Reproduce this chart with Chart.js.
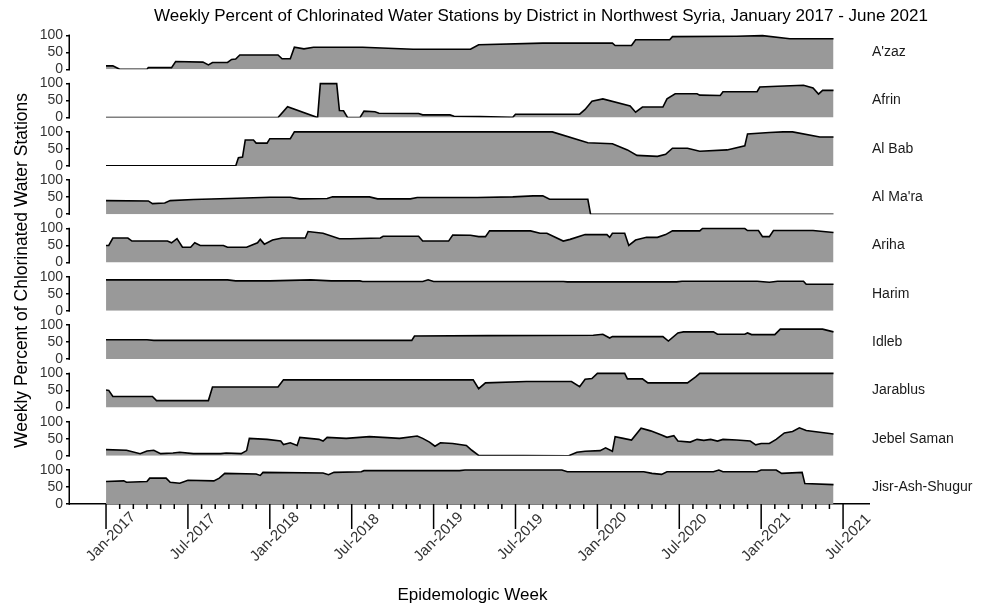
<!DOCTYPE html>
<html>
<head>
<meta charset="utf-8">
<title>Chlorinated Water Stations</title>
<style>
  body { margin: 0; background: #fff; }
  canvas { display: block; }
</style>
</head>
<body>
<canvas id="chart" width="988" height="609"></canvas>
<script src="https://cdn.jsdelivr.net/npm/chart.js@4.4.1/dist/chart.umd.min.js"></script>
<script>
// x = months since Jan-2017, y = weekly percent of chlorinated stations
const districts = ["A'zaz", "Afrin", "Al Bab", "Al Ma'ra", "Ariha", "Harim", "Idleb", "Jarablus", "Jebel Saman", "Jisr-Ash-Shugur"];

const azaz = [[0,10],[0.5,10],[1.0,0],[3.0,0],[3.1,5],[4.8,5],[5.1,23],[7.1,21],[7.5,13],[7.8,20],[8.9,20],[9.2,29],[9.5,30],[9.8,42],[12.6,42],[12.9,31],[13.5,31],[13.8,65],[14.5,60],[15.2,65],[18.8,65],[22.5,59],[26.7,59],[27.3,72],[32.0,77],[37.1,77],[37.3,70],[38.5,70],[38.8,87],[41.3,87],[41.5,96],[46.2,97],[48.1,99],[50.1,90],[53.3,90]];
const afrin = [[0,0],[12.6,0],[13.3,32],[15.5,0],[15.7,100],[16.9,100],[17.1,21],[17.4,20],[17.7,0],[18.6,0],[18.9,19],[19.7,17],[20.0,13],[22.9,12],[23.2,8],[25.2,8],[25.5,4],[27.4,3],[29.8,1],[30.0,10],[34.7,10],[35.1,24],[35.6,48],[36.4,55],[38.4,34],[38.8,16],[39.3,31],[40.8,31],[41.1,55],[41.7,70],[43.3,70],[43.5,66],[45.0,65],[45.2,76],[47.7,76],[47.9,90],[49.2,92],[51.1,95],[51.8,87],[52.2,69],[52.5,80],[53.3,80]];
const alBab = [[0,0],[9.5,0],[9.7,24],[10.0,26],[10.2,76],[10.8,76],[11.0,67],[11.8,67],[12.0,80],[13.5,80],[13.8,100],[32.7,100],[35.3,68],[37.1,65],[38.2,47],[38.9,31],[40.4,28],[41.0,34],[41.5,52],[42.6,52],[43.5,43],[45.5,47],[46.8,59],[47.0,94],[48.6,98],[49.6,100],[50.3,100],[52.3,85],[53.3,85]];
const alMara = [[0,40],[3.1,39],[3.4,31],[4.3,33],[4.7,40],[6.4,43],[9.0,46],[12.0,50],[13.5,50],[14.2,45],[16.2,46],[16.6,51],[19.3,51],[19.9,45],[22.3,45],[22.8,49],[27.2,49],[29.8,51],[31.3,54],[32.0,54],[32.5,44],[35.3,44],[35.5,0],[53.3,0]];
const ariha = [[0,50],[0.2,50],[0.5,72],[1.6,72],[1.9,63],[4.5,63],[4.8,58],[5.2,70],[5.6,45],[6.2,45],[6.5,58],[6.9,50],[8.6,50],[8.9,45],[10.3,45],[11.1,58],[11.3,68],[11.6,54],[12.2,66],[12.9,72],[14.6,72],[14.8,91],[15.9,86],[17.1,70],[17.9,70],[20.1,72],[20.3,77],[22.9,77],[23.2,63],[25.1,63],[25.4,81],[26.7,80],[27.3,76],[27.8,76],[28.1,93],[31.1,93],[31.8,86],[32.3,86],[33.5,63],[34.0,68],[35.1,82],[36.7,82],[36.9,74],[37.1,86],[38.0,86],[38.3,50],[38.8,66],[39.6,74],[40.4,74],[41.0,82],[41.5,93],[43.5,93],[43.7,100],[46.8,100],[47.0,94],[47.8,94],[48.1,76],[48.6,76],[48.9,94],[51.8,94],[53.3,88]];
const harim = [[0,91],[8.9,91],[9.5,88],[12.0,88],[15.0,91],[16.5,88],[18.6,88],[18.8,86],[23.2,86],[23.6,91],[24.0,86],[33.5,86],[33.8,85],[41.8,85],[42.2,87],[47.7,87],[48.6,84],[49.2,87],[51.1,87],[51.3,78],[53.3,78]];
const idleb = [[0,57],[3.0,57],[3.5,55],[22.4,55],[22.6,68],[28.0,69],[35.7,70],[36.4,73],[36.9,62],[37.1,66],[40.8,66],[41.2,53],[41.9,77],[42.3,80],[44.5,80],[44.8,73],[46.8,73],[47.0,77],[47.3,72],[49.0,72],[49.4,88],[52.5,88],[53.3,80]];
const jarablus = [[0,51],[0.2,50],[0.5,32],[3.4,32],[3.7,20],[7.5,20],[7.8,60],[12.6,60],[13.0,81],[26.9,81],[27.3,55],[27.8,72],[30.8,76],[34.1,76],[34.7,61],[35.1,83],[35.6,85],[36.0,100],[38.0,100],[38.2,84],[39.3,84],[39.7,72],[42.6,72],[43.2,90],[43.5,100],[53.3,100]];
const jebelSaman = [[0,18],[1.5,16],[2.5,6],[3.0,14],[3.5,16],[4.0,6],[4.9,8],[5.4,10],[6.4,6],[8.4,6],[8.8,8],[9.9,6],[10.3,15],[10.5,51],[11.8,48],[12.8,43],[13.0,33],[13.5,38],[14.0,30],[14.2,54],[15.6,48],[15.9,43],[16.2,54],[17.6,51],[19.3,56],[20.6,53],[21.5,51],[22.8,58],[23.2,51],[23.7,40],[24.1,28],[24.5,38],[25.4,36],[26.4,30],[26.8,16],[27.3,1],[33.9,0],[34.5,10],[35.1,13],[36.2,15],[36.6,23],[37.1,13],[37.3,56],[37.9,51],[38.5,46],[39.2,81],[39.9,73],[40.7,61],[41.1,54],[41.6,59],[41.9,43],[42.8,40],[43.3,48],[43.8,45],[44.3,48],[44.8,43],[45.2,48],[46.2,46],[47.2,43],[47.6,32],[48.0,36],[48.6,36],[49.1,48],[49.7,67],[50.3,71],[50.8,82],[51.3,74],[52.3,69],[53.3,64]];
const jisr = [[0,66],[1.3,68],[1.5,64],[3.0,66],[3.2,76],[4.4,76],[4.7,64],[5.4,61],[6.0,70],[7.9,68],[8.3,76],[8.7,90],[11.0,88],[11.3,84],[11.5,93],[15.9,91],[16.3,86],[16.7,93],[18.7,95],[18.9,98],[25.9,98],[26.3,100],[33.4,100],[33.8,95],[39.4,95],[40.0,90],[40.7,87],[41.1,95],[44.5,95],[44.9,100],[45.2,95],[47.7,95],[48.0,100],[49.1,100],[49.5,90],[51.0,93],[51.2,60],[53.3,57]];

const series = [azaz, afrin, alBab, alMara, ariha, harim, idleb, jarablus, jebelSaman, jisr];
const tickMonths = [0, 6, 12, 18, 24, 30, 36, 42, 48, 54];
const tickLabels = ['Jan-2017', 'Jul-2017', 'Jan-2018', 'Jul-2018', 'Jan-2019', 'Jul-2019', 'Jan-2020', 'Jul-2020', 'Jan-2021', 'Jul-2021'];
const yTicks = [0, 50, 100];

const FONT = '"Liberation Sans", Arial, Helvetica, sans-serif';

// one y axis per district, stacked on the left
const scales = {
  x: {
    type: 'linear', position: 'bottom', min: -2.64, max: 55.9,
    grid: { display: false },
    ticks: { display: false },
    border: { display: true, color: '#000', width: 1.5 },
    afterFit: s => { s.height = 105; }
  }
};
districts.forEach((d, i) => {
  scales['y' + i] = {
    type: 'linear', position: 'left', stack: 'facets', stackWeight: 1,
    weight: districts.length - i,
    min: 0, max: 142,
    afterBuildTicks: s => { s.ticks = yTicks.map(v => ({ value: v })); },
    afterFit: s => { s.width = 70; },
    grid: { drawOnChartArea: false, color: '#000', lineWidth: 1.5, tickLength: 4 },
    border: { display: false },
    ticks: { autoSkip: false, padding: 3, color: '#333', font: { family: FONT, size: 14 } }
  };
});

const facetPlugin = {
  id: 'facets',
  afterDraw(chart) {
    const ctx = chart.ctx;
    const area = chart.chartArea;
    const x = chart.scales.x;
    ctx.save();
    ctx.strokeStyle = '#000';
    ctx.lineWidth = 1.5;
    // y axis lines and strip labels
    districts.forEach((name, i) => {
      const y = chart.scales['y' + i];
      const top = y.getPixelForValue(100);
      const bottom = y.getPixelForValue(0);
      ctx.fillStyle = '#000';
      ctx.fillRect(area.left - 1.5, top - 0.75, 1.5, bottom - top + 1.5);
      ctx.fillStyle = '#1a1a1a';
      ctx.font = '14px ' + FONT;
      ctx.textAlign = 'left';
      ctx.textBaseline = 'middle';
      ctx.fillText(name, area.right + 3, y.getPixelForValue(50));
    });
    // x ticks: monthly minor, half-yearly major
    for (let m = tickMonths[0]; m <= tickMonths[tickMonths.length - 1]; m++) {
      const px = x.getPixelForValue(m);
      const len = m % 6 === 0 ? 25 : 5;
      ctx.beginPath();
      ctx.moveTo(px, area.bottom);
      ctx.lineTo(px, area.bottom + len);
      ctx.stroke();
    }
    ctx.fillStyle = '#333';
    ctx.font = '15px ' + FONT;
    ctx.textAlign = 'center';
    ctx.textBaseline = 'middle';
    tickMonths.forEach((m, i) => {
      ctx.save();
      ctx.translate(x.getPixelForValue(m) + 5, area.bottom + 33);
      ctx.rotate(-Math.PI / 4);
      ctx.fillText(tickLabels[i], 0, 0);
      ctx.restore();
    });
    // titles
    ctx.fillStyle = '#000';
    ctx.font = '17px ' + FONT;
    ctx.fillText('Weekly Percent of Chlorinated Water Stations by District in Northwest Syria, January 2017 - June 2021', 541, 16);
    ctx.fillText('Epidemologic Week', (area.left + area.right) / 2 + 3, 595);
    ctx.save();
    ctx.translate(22, (area.top + area.bottom) / 2 + 8);
    ctx.rotate(-Math.PI / 2);
    ctx.font = '17.5px ' + FONT;
    ctx.fillText('Weekly Percent of Chlorinated Water Stations', 0, 0);
    ctx.restore();
    ctx.restore();
  }
};

new Chart(document.getElementById('chart'), {
  type: 'line',
  data: {
    datasets: districts.map((d, i) => ({
      label: d,
      data: series[i].map(p => ({ x: p[0], y: p[1] })),
      yAxisID: 'y' + i,
      xAxisID: 'x',
      fill: 'origin',
      backgroundColor: '#999999',
      borderColor: '#000',
      borderWidth: 1.6,
      pointRadius: 0,
      tension: 0
    }))
  },
  options: {
    responsive: false,
    animation: false,
    layout: { padding: { top: 21, right: 119, left: 0, bottom: 0 } },
    plugins: { legend: { display: false }, tooltip: { enabled: false }, title: { display: false } },
    scales: scales
  },
  plugins: [facetPlugin]
});
</script>
</body>
</html>
